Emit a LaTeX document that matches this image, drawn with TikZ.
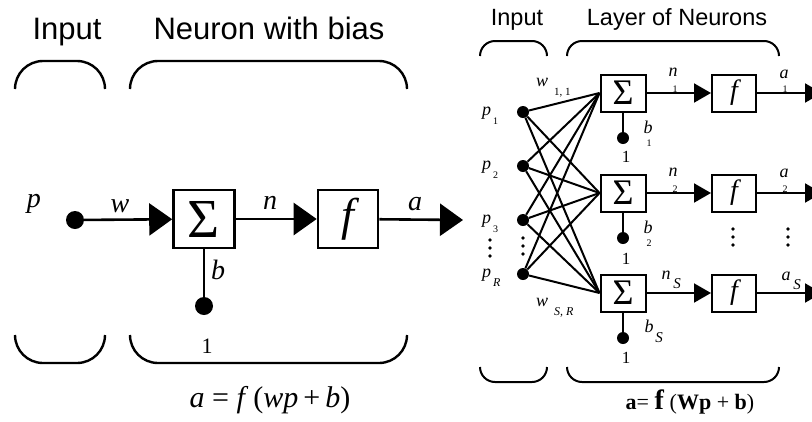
\documentclass[tikz,border=0pt]{standalone}
\usepackage{fontspec}
\setmainfont{Liberation Serif}
\newfontfamily\headfont{Liberation Sans}
\usetikzlibrary{arrows.meta, positioning}

% lowered subscript as in the drawing
\newcommand{\lsub}[2][11]{\kern2pt\raisebox{-9pt}{\fontsize{#1}{#1}\selectfont #2}}

\begin{document}
\begin{tikzpicture}[x=1pt, y=-1pt,
    sumbig/.style={draw, line width=2.6pt, minimum width=61pt, minimum height=58pt, inner sep=0pt, font=\fontsize{55}{55}\selectfont},
    actbig/.style={draw, line width=2.6pt, minimum width=60pt, minimum height=58pt, inner sep=0pt, font=\fontsize{46}{46}\selectfont\itshape},
    sumsmall/.style={draw, line width=2pt, minimum width=45pt, minimum height=37pt, inner sep=0pt, font=\fontsize{36}{36}\selectfont},
    actsmall/.style={draw, line width=2pt, minimum width=44pt, minimum height=37pt, inner sep=0pt, font=\fontsize{28}{28}\selectfont\itshape},
    dotbig/.style={circle, fill, inner sep=0pt, minimum size=18pt},
    dotsmall/.style={circle, fill, inner sep=0pt, minimum size=12pt},
    arrowbig/.style={-{Triangle[length=23pt, width=32pt]}, line width=2.6pt},
    arrowsmall/.style={-{Triangle[length=17pt, width=19pt]}, line width=2pt},
    wire/.style={line width=2pt},
    bracebig/.style={line width=2.4pt, rounded corners=28pt},
    bracesmall/.style={line width=2pt, rounded corners=15pt},
    varbig/.style={inner sep=0pt, font=\fontsize{28}{28}\selectfont\itshape},
    varsmall/.style={inner sep=0pt, font=\fontsize{18}{18}\selectfont\itshape},
    subsmall/.style={inner sep=0pt, font=\fontsize{10}{10}\selectfont},
    headbig/.style={inner sep=0pt, anchor=base, font=\headfont\fontsize{31}{31}\selectfont},
    headsmall/.style={inner sep=0pt, anchor=base, font=\headfont\fontsize{23.5}{23.5}\selectfont}
]
\useasboundingbox (0,0) rectangle (812,421);
\clip (0,0) rectangle (812,421);

% Single neuron
\node[headbig] (inhead) at (67,39) {Input};
\node[headbig] (neuhead) at (269,39) {Neuron with bias};
\draw[bracebig] (15,89) -- (15,61) -- (105,61) -- (105,89);
\draw[bracebig] (130,89) -- (130,61) -- (407,61) -- (407,89);
\draw[bracebig] (15,335) -- (15,363) -- (105,363) -- (105,335);
\draw[bracebig] (130,335) -- (130,363) -- (407,363) -- (407,335);

\node[dotbig] (pin) at (75,220) {};
\node[sumbig] (sum) at (204,219) {Σ};
\node[actbig] (act) at (348,219) {f};
\node[dotbig] (one) at (204,306) {};
\coordinate (aout) at (463,220);

\draw[arrowbig] (pin) -- (sum);
\draw[arrowbig] (sum) -- (act);
\draw[arrowbig] (act) -- (aout);
\draw[line width=2.6pt] (sum) -- (one);

\node[varbig] (plab) at (34,204) {p};
\node[varbig] (wlab) at (120,206) {w};
\node[varbig] (nlab) at (270,203) {n};
\node[varbig] (alab) at (415,204) {a};
\node[varbig] (blab) at (218,270) {b};
\node[inner sep=0pt, font=\fontsize{22}{22}\selectfont] (onelab) at (207,346) {1};
\node[inner sep=0pt, font=\fontsize{30}{30}\selectfont] (eqbig) at (270,400)
    {\textit{a} = \textit{f}\,(\textit{wp}\,+\,\textit{b})};

% Layer of neurons
\node[headsmall] (inhead2) at (517,25) {Input};
\node[headsmall] (layhead) at (677,25) {Layer of Neurons};
\draw[bracesmall] (480,56) -- (480,41) -- (547,41) -- (547,56);
\draw[bracesmall] (567,56) -- (567,41) -- (779,41) -- (779,56);
\draw[bracesmall] (480,367) -- (480,382) -- (547,382) -- (547,367);
\draw[bracesmall] (567,367) -- (567,382) -- (779,382) -- (779,367);

\node[dotsmall] (p1) at (523,112) {};
\node[dotsmall] (p2) at (523,166) {};
\node[dotsmall] (p3) at (523,220) {};
\node[dotsmall] (pR) at (523,274) {};

\node[sumsmall] (s1) at (623,93) {Σ};
\node[sumsmall] (s2) at (623,193) {Σ};
\node[sumsmall] (s3) at (623,293) {Σ};
\node[actsmall] (f1) at (734,93) {f};
\node[actsmall] (f2) at (734,193) {f};
\node[actsmall] (f3) at (734,293) {f};
\node[dotsmall] (b1) at (623,138) {};
\node[dotsmall] (b2) at (623,238) {};
\node[dotsmall] (b3) at (623,338) {};
\coordinate (o1) at (822,93);
\coordinate (o2) at (822,193);
\coordinate (o3) at (822,293);

\foreach \src in {p1,p2,p3,pR}
  \foreach \dst in {s1,s2,s3}
    \draw[wire] (\src) -- (\dst.west);

\foreach \k in {1,2,3} {
  \draw[arrowsmall] (s\k) -- (f\k);
  \draw[arrowsmall] (f\k) -- (o\k);
  \draw[wire] (s\k) -- (b\k);
}

% vertical ellipses
\foreach \dy in {0,8,16} {
  \fill (490,240+\dy) circle (1.9pt);
  \fill (523,238+\dy) circle (1.9pt);
  \fill (733,229+\dy) circle (1.9pt);
  \fill (788,229+\dy) circle (1.9pt);
}

\node[varsmall, anchor=base west] (pl1) at (482,115) {p\lsub[10]{\upshape 1}};
\node[varsmall, anchor=base west] (pl2) at (482,169) {p\lsub[10]{\upshape 2}};
\node[varsmall, anchor=base west] (pl3) at (482,223) {p\lsub[10]{\upshape 3}};
\node[varsmall, anchor=base west] (plR) at (482,277) {p\lsub[12]{R}};

\node[varsmall, anchor=base west] (w11) at (536,86) {w\kern4pt\lsub{\upshape 1, 1}};
\node[varsmall, anchor=base west] (wSR) at (536,306) {w\kern4pt\lsub[12]{S, R}};

\node[varsmall] (n1) at (673,72) {n};
\node[subsmall] (n1s) at (675,89) {1};
\node[varsmall] (n2) at (673,172) {n};
\node[subsmall] (n2s) at (675,189) {2};
\node[varsmall] (n3) at (666,275) {n};
\node[varsmall, font=\fontsize{15}{15}\selectfont\itshape] (n3s) at (677,284) {S};
\node[varsmall] (a1) at (784,74) {a};
\node[subsmall] (a1s) at (785,89) {1};
\node[varsmall] (a2) at (784,173) {a};
\node[subsmall] (a2s) at (785,189) {2};
\node[varsmall] (a3) at (786,276) {a};
\node[varsmall, font=\fontsize{15}{15}\selectfont\itshape] (a3s) at (797,285) {S};

\node[varsmall] (bl1) at (648,127) {b};
\node[subsmall] (bl1s) at (649,143) {1};
\node[varsmall] (bl2) at (648,227) {b};
\node[subsmall] (bl2s) at (649,243) {2};
\node[varsmall] (bl3) at (649,326) {b};
\node[varsmall, font=\fontsize{15}{15}\selectfont\itshape] (bl3s) at (659,338) {S};
\node[inner sep=0pt, font=\fontsize{17}{17}\selectfont] (one1) at (626,157) {1};
\node[inner sep=0pt, font=\fontsize{17}{17}\selectfont] (one2) at (626,259) {1};
\node[inner sep=0pt, font=\fontsize{17}{17}\selectfont] (one3) at (626,358) {1};

\node[inner sep=0pt, font=\fontsize{22}{22}\selectfont] (eqsmall) at (690,402)
    {\textbf{a}= {\fontsize{28}{28}\selectfont\textbf{f}} (\textbf{Wp} + \textbf{b})};
\end{tikzpicture}
\end{document}
